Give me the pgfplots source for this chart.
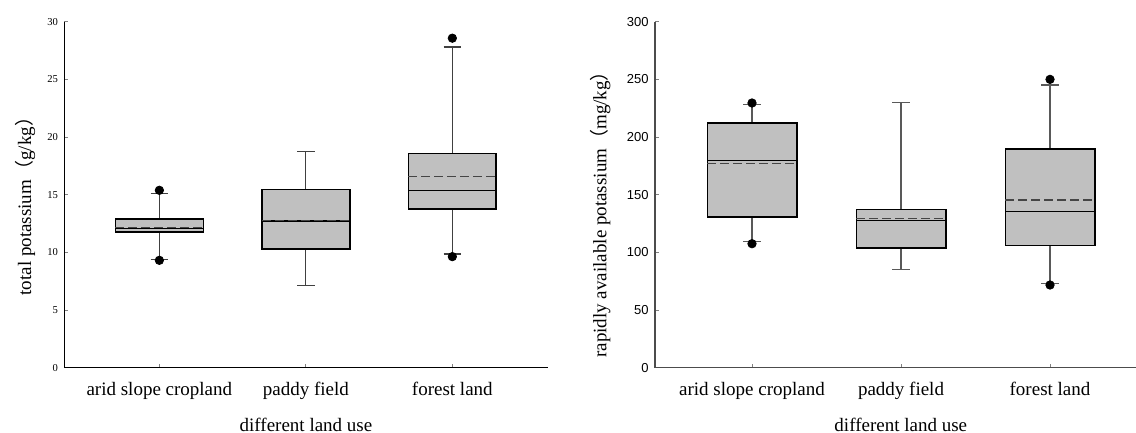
\documentclass[border=0pt]{standalone}
\usepackage{fontspec}
\setmainfont{Liberation Serif}
\newfontfamily\sansf{Liberation Sans}
\newfontfamily\cjk{Noto Sans CJK SC}
\usepackage{pgfplots}
\pgfplotsset{compat=1.18}
\usepgfplotslibrary{statistics}

\definecolor{boxfill}{HTML}{C0C0C0}
\definecolor{whisk}{HTML}{404040}
\definecolor{meanc}{HTML}{454545}

\pgfplotsset{
  landuse/.style={
    scale only axis, height=173pt,
    axis lines=left, axis line style={-, line width=0.6pt},
    tick align=inside, major tick length=2pt,
    tick style={line width=0.5pt},
    xtick={0,1,2},
    xticklabels={arid slope cropland, paddy field, forest land},
    ymin=0,
    label style={font=\fontsize{9.5}{11}\selectfont},
    xticklabel style={font=\fontsize{9.5}{11}\selectfont, anchor=base, yshift=-13.7pt},
    yticklabel style={anchor=east, inner sep=0pt, xshift=-3pt},
    /pgf/number format/assume math mode=true,
    xlabel={different land use},
    boxplot/draw direction=y,
    boxplot/box extend=0.6,
    boxplot/whisker extend=0.12,
    boxplot/every whisker/.style={whisk, line width=0.55pt},
    boxplot/every box/.style={draw=black, fill=boxfill, line width=0.8pt},
    boxplot/every median/.style={black, line width=0.65pt},
  },
  bx/.style={boxplot prepared={#1}, draw=black, mark=none},
  outl/.style={only marks, mark=*, mark size=2.1pt, black},
  meanline/.style={meanc, line width=0.7pt, dash pattern=on 4.5pt off 2pt},
}

\begin{document}
\begin{tikzpicture}
\path[use as bounding box] (0,0) rectangle (568pt,216.5pt);

% total potassium
\begin{axis}[landuse,
  at={(32.15pt,32.65pt)}, anchor=south west,
  width=241.7pt, xmin=-0.649, xmax=2.651,
  ymax=30, ytick={0,5,...,30},
  yticklabel style={font=\fontsize{5.3}{6}\selectfont},
  ylabel={total potassium{\cjk （}g/kg{\cjk ）}},
  y label style={at={(axis description cs:-0.081,0.48)}, anchor=center},
  x label style={at={(axis description cs:0.5,-0.183)}, anchor=base},
]
\addplot[bx={draw position=0, lower whisker=9.40, lower quartile=11.74,
  median=12.09, upper quartile=12.90, upper whisker=15.07}] coordinates {};
\addplot[bx={draw position=1, lower whisker=7.11, lower quartile=10.27,
  median=12.72, upper quartile=15.44, upper whisker=18.73}] coordinates {};
\addplot[bx={draw position=2, lower whisker=9.86, lower quartile=13.74,
  median=15.38, upper quartile=18.56, upper whisker=27.81}] coordinates {};
\addplot[meanline] coordinates {(-0.3,12.17) (0.3,12.17)};
\addplot[meanline] coordinates {(0.7,12.78) (1.3,12.78)};
\addplot[meanline] coordinates {(1.7,16.57) (2.3,16.57)};
\addplot[outl] coordinates {(0,15.38) (0,9.31) (2,28.57) (2,9.63)};
\end{axis}

% rapidly available potassium
\begin{axis}[landuse,
  at={(327.5pt,32.65pt)}, anchor=south west,
  width=240.5pt, xmin=-0.651, xmax=2.577,
  ymax=300, ytick={0,50,...,300},
  axis line style={draw=black!70},
  yticklabel style={font=\sansf\fontsize{6.5}{7}\selectfont},
  boxplot/every whisker/.style={black!65, line width=0.65pt},
  ylabel={rapidly available potassium{\cjk （}mg/kg{\cjk ）}},
  y label style={at={(axis description cs:-0.114,0.456)}, anchor=center},
  x label style={at={(axis description cs:0.511,-0.183)}, anchor=base},
]
\addplot[bx={draw position=0, lower whisker=109.6, lower quartile=130.9,
  median=179.8, upper quartile=212.4, upper whisker=228.0}] coordinates {};
\addplot[bx={draw position=1, lower whisker=85.3, lower quartile=103.8,
  median=127.5, upper quartile=137.0, upper whisker=229.8}] coordinates {};
\addplot[bx={draw position=2, lower whisker=73.2, lower quartile=105.8,
  median=135.3, upper quartile=189.4, upper whisker=245.1}] coordinates {};
\addplot[meanline] coordinates {(-0.3,176.9) (0.3,176.9)};
\addplot[meanline] coordinates {(0.7,129.5) (1.3,129.5)};
\addplot[meanline] coordinates {(1.7,145.4) (2.3,145.4)};
\addplot[outl] coordinates {(0,229.5) (0,107.5) (2,250.0) (2,71.7)};
\end{axis}
\end{tikzpicture}
\end{document}
